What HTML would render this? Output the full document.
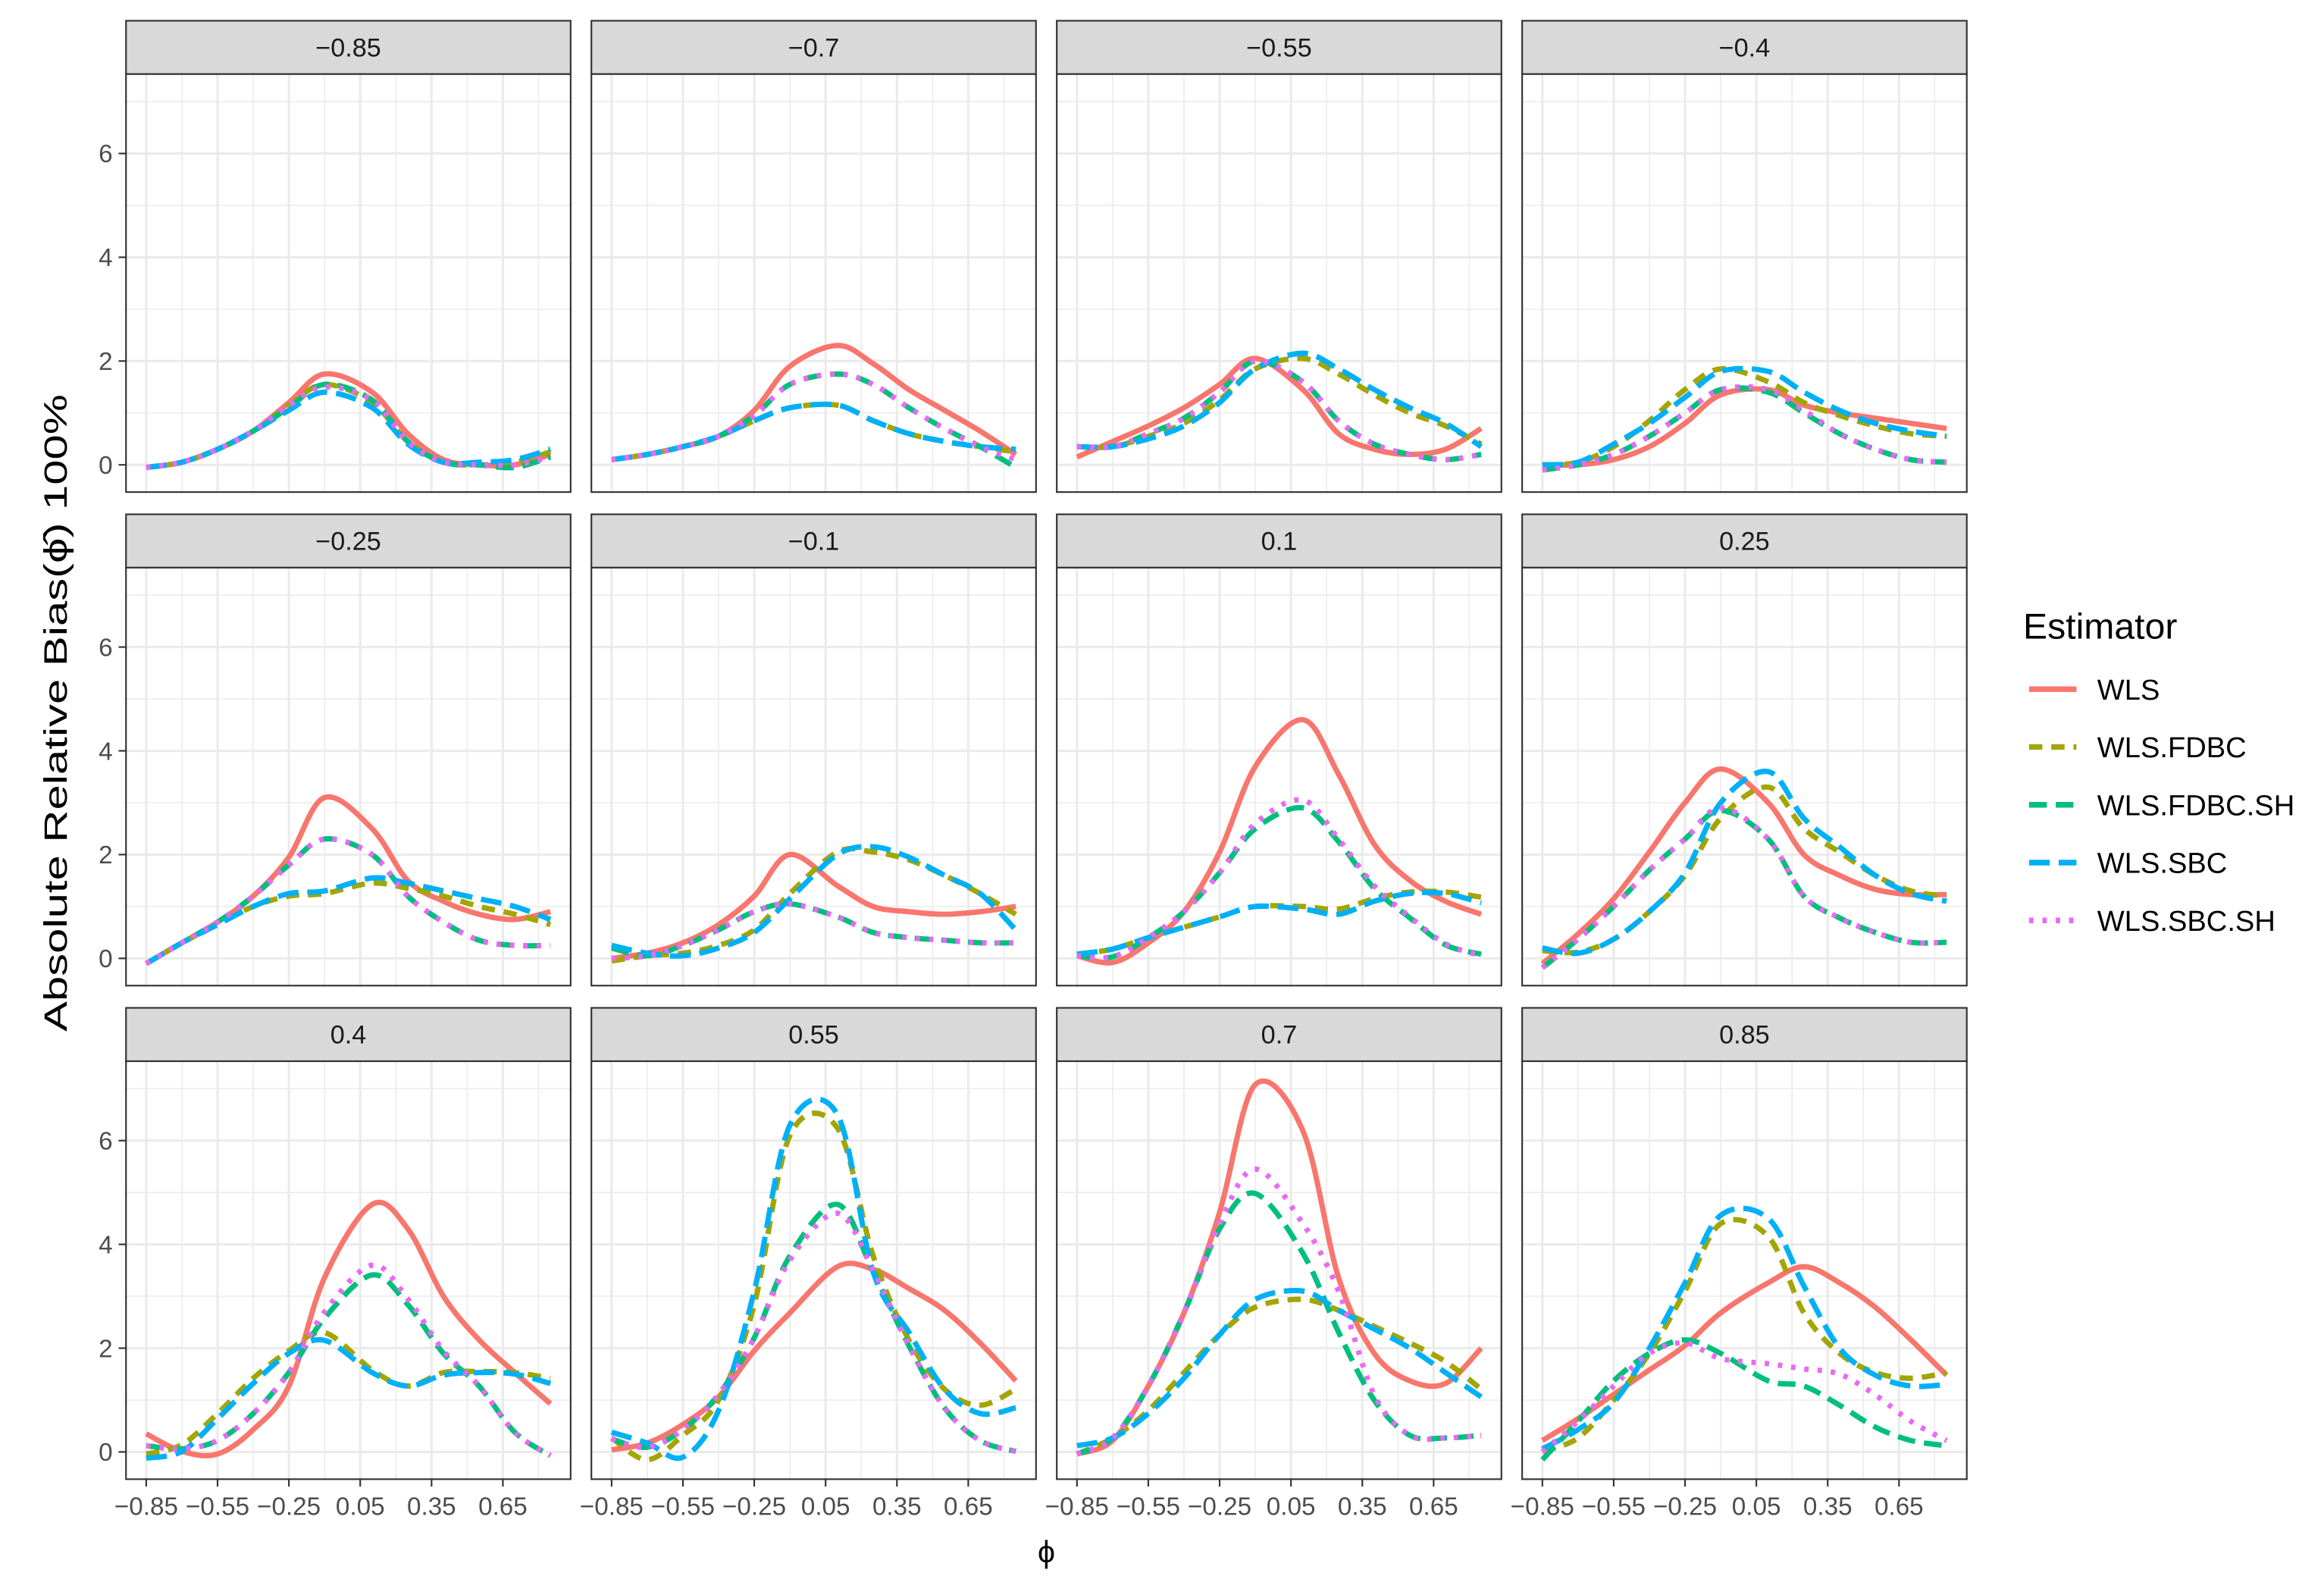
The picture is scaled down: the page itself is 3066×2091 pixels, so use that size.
<!DOCTYPE html>
<html><head><meta charset="utf-8"><style>
html,body{margin:0;padding:0;background:#fff;}
svg{display:block;}
text{font-family:"Liberation Sans","DejaVu Sans",sans-serif;}
</style></head><body>
<svg id="chart" xmlns="http://www.w3.org/2000/svg" width="3066" height="2091" viewBox="0 0 1568 1069.4">
<rect x="0" y="0" width="1568" height="1069.4" fill="#fff"/>
<g id="panels"></g>
<text x="45" y="481" transform="rotate(-90 45 481)" text-anchor="middle" font-size="22" textLength="430" lengthAdjust="spacingAndGlyphs" fill="#000">Absolute Relative Bias(ϕ̂) 100%</text>
<text x="706" y="1054" text-anchor="middle" font-size="21" fill="#000">ϕ</text>
<g id="legend">
<text x="1365" y="431" font-size="24" textLength="104" lengthAdjust="spacingAndGlyphs" fill="#000">Estimator</text>
</g>
</svg>
<script>
const panelTitles = ["−0.85","−0.7","−0.55","−0.4","−0.25","−0.1","0.1","0.25","0.4","0.55","0.7","0.85"];
const phiValues = [-0.85,-0.7,-0.55,-0.4,-0.25,-0.1,0.1,0.25,0.4,0.55,0.7,0.85];
const xTickValues = [-0.85,-0.55,-0.25,0.05,0.35,0.65];
const xTickLabels = ["−0.85","−0.55","−0.25","0.05","0.35","0.65"];
const xMinorValues = [-0.7,-0.4,-0.1,0.2,0.5,0.8];
const yTickValues = [0,2,4,6];
const yMinorValues = [1,3,5,7];
const seriesNames = ["WLS","WLS.FDBC","WLS.FDBC.SH","WLS.SBC","WLS.SBC.SH"];
const seriesColors = ["#F8766D","#A3A500","#00BF7D","#00B0F6","#E76BF3"];
const seriesDash = ["none","9 6","12 6","14 6","3 6"];

// values per panel [WLS, FDBC, FDBC.SH, SBC, SBC.SH]
const wls = [
 [-0.05,0.05,0.3,0.65,1.2,1.75,1.4,0.6,0.1,0.0,0.0,0.2],
 [0.1,0.2,0.35,0.55,1.05,1.9,2.3,1.95,1.45,1.05,0.65,0.2],
 [0.15,0.45,0.75,1.1,1.55,2.05,1.45,0.6,0.3,0.2,0.3,0.7],
 [0.0,0.0,0.1,0.35,0.8,1.35,1.45,1.15,1.0,0.9,0.8,0.7],
 [-0.1,0.3,0.7,1.2,1.95,3.1,2.5,1.5,1.1,0.85,0.75,0.9],
 [0.0,0.1,0.3,0.65,1.2,2.0,1.4,1.0,0.9,0.85,0.9,1.0],
 [0.05,-0.08,0.3,0.9,2.05,3.7,4.6,3.55,2.2,1.5,1.1,0.85],
 [-0.1,0.47,1.15,2.05,3.0,3.65,3.0,2.0,1.6,1.33,1.23,1.23],
 [0.35,0.01,-0.04,0.43,1.27,3.36,4.77,4.3,3.0,2.16,1.53,0.93],
 [0.04,0.17,0.53,1.06,1.95,2.68,3.57,3.52,3.15,2.73,2.1,1.37],
 [-0.04,0.22,1.27,2.68,4.62,7.08,6.19,3.36,1.9,1.37,1.32,2.0],
 [0.22,0.64,1.11,1.58,2.05,2.68,3.26,3.57,3.26,2.79,2.16,1.48]
];
const fdbc = [
 [-0.05,0.05,0.3,0.65,1.15,1.55,1.2,0.45,0.05,0.0,0.05,0.25],
 [0.1,0.2,0.35,0.55,0.85,1.1,1.15,0.85,0.6,0.45,0.35,0.25],
 [0.35,0.35,0.55,0.8,1.25,1.85,2.05,1.75,1.35,1.0,0.75,0.4],
 [0.0,0.05,0.35,0.85,1.45,1.85,1.6,1.2,0.95,0.75,0.6,0.55],
 [-0.1,0.3,0.65,1.0,1.2,1.25,1.45,1.35,1.2,1.0,0.85,0.65],
 [-0.05,0.05,0.1,0.25,0.55,1.25,2.05,2.05,1.9,1.6,1.25,0.85],
 [0.08,0.18,0.4,0.6,0.8,1.0,1.0,0.95,1.15,1.28,1.28,1.18],
 [0.15,0.12,0.37,0.9,1.6,2.7,3.3,2.5,2.05,1.6,1.3,1.2],
 [-0.04,0.14,0.74,1.42,1.95,2.3,1.58,1.27,1.53,1.55,1.53,1.42],
 [0.27,-0.15,0.32,1.0,2.84,6.1,6.24,3.78,2.16,1.21,0.9,1.21],
 [-0.04,0.27,0.8,1.53,2.26,2.79,2.94,2.73,2.42,2.1,1.74,1.21],
 [0.01,0.27,1.0,1.9,3.1,4.4,4.15,2.68,1.9,1.53,1.42,1.53]
];
const fdbcSh = [
 [-0.05,0.05,0.3,0.65,1.1,1.55,1.25,0.45,0.05,0.0,-0.05,0.15],
 [0.1,0.2,0.35,0.55,0.95,1.55,1.75,1.55,1.1,0.7,0.35,-0.05],
 [0.35,0.35,0.6,0.9,1.4,2.0,1.6,0.85,0.4,0.2,0.1,0.2],
 [-0.1,0.0,0.2,0.55,1.0,1.45,1.4,1.0,0.6,0.3,0.1,0.05],
 [-0.1,0.3,0.7,1.2,1.8,2.3,2.0,1.2,0.7,0.35,0.25,0.25],
 [0.2,0.05,0.25,0.55,0.9,1.05,0.8,0.5,0.4,0.35,0.3,0.3],
 [0.05,0.03,0.4,0.9,1.65,2.5,2.9,2.25,1.35,0.78,0.26,0.08],
 [-0.18,0.37,1.0,1.7,2.3,2.85,2.3,1.2,0.78,0.5,0.31,0.31],
 [0.12,0.06,0.22,0.74,1.53,2.58,3.41,2.84,1.9,1.27,0.38,-0.07],
 [0.25,0.09,0.43,1.11,2.2,3.78,4.77,3.47,2.05,0.85,0.22,0.01],
 [-0.04,0.27,1.27,2.68,4.3,4.98,3.83,2.31,1.0,0.32,0.27,0.32],
 [-0.15,0.59,1.37,1.9,2.16,1.9,1.37,1.27,0.9,0.48,0.22,0.12]
];
const sbc = [
 [-0.05,0.05,0.3,0.65,1.05,1.4,1.1,0.4,0.05,0.05,0.1,0.3],
 [0.1,0.2,0.35,0.55,0.85,1.1,1.15,0.85,0.6,0.45,0.35,0.3],
 [0.35,0.35,0.5,0.75,1.2,1.85,2.15,1.85,1.45,1.1,0.8,0.35],
 [0.0,0.05,0.4,0.8,1.3,1.8,1.8,1.4,1.05,0.8,0.65,0.55],
 [-0.1,0.3,0.65,1.0,1.25,1.3,1.55,1.45,1.3,1.15,1.0,0.75],
 [0.25,0.1,0.05,0.2,0.5,1.15,2.0,2.15,1.95,1.6,1.25,0.55],
 [0.08,0.18,0.4,0.6,0.8,1.0,0.95,0.85,1.1,1.25,1.25,1.07],
 [0.2,0.1,0.37,0.9,1.65,3.0,3.6,2.7,2.15,1.6,1.25,1.1],
 [-0.12,0.01,0.64,1.32,1.9,2.15,1.53,1.27,1.48,1.53,1.5,1.32],
 [0.38,0.17,-0.1,0.8,3.1,6.3,6.5,3.47,2.31,1.21,0.74,0.85],
 [0.12,0.27,0.74,1.42,2.26,2.94,3.1,2.73,2.37,2.0,1.53,1.06],
 [0.06,0.43,0.95,2.0,3.26,4.56,4.5,3.2,2.0,1.48,1.27,1.3]
];
const sbcSh = [
 [-0.05,0.05,0.3,0.65,1.15,1.5,1.25,0.45,0.05,0.0,0.0,0.15],
 [0.1,0.2,0.35,0.55,0.95,1.55,1.75,1.55,1.1,0.7,0.35,0.1],
 [0.35,0.35,0.6,0.9,1.4,2.0,1.6,0.85,0.4,0.2,0.1,0.2],
 [-0.1,0.0,0.2,0.55,1.0,1.45,1.45,1.05,0.6,0.3,0.1,0.05],
 [-0.1,0.3,0.7,1.2,1.8,2.3,2.0,1.2,0.7,0.35,0.25,0.25],
 [0.0,0.05,0.25,0.55,0.9,1.05,0.8,0.5,0.4,0.35,0.3,0.3],
 [0.05,0.03,0.4,0.9,1.65,2.6,3.05,2.3,1.4,0.8,0.28,0.05],
 [-0.18,0.37,1.0,1.7,2.3,2.9,2.3,1.2,0.78,0.5,0.31,0.31],
 [0.12,0.06,0.22,0.74,1.53,2.7,3.6,2.95,1.95,1.27,0.38,-0.07],
 [0.25,0.09,0.43,1.11,2.2,3.7,4.6,3.5,2.05,0.85,0.22,0.01],
 [-0.04,0.27,1.27,2.68,4.4,5.45,4.4,3.1,1.1,0.32,0.27,0.32],
 [0.0,0.59,1.27,1.9,2.1,1.8,1.7,1.6,1.5,1.1,0.59,0.22]
];
const allSeries = [wls, fdbc, fdbcSh, sbc, sbcSh];

const NS = "http://www.w3.org/2000/svg";
const colLeft = [85,399,713,1027];
const rowTop = [14,347,680];
const PW = 300, STRIP = 36, PH = 282;
const X0 = -0.935, X1 = 0.935, Y0 = -0.525, Y1 = 7.53;
function mk(tag, attrs, parent){
  const e = document.createElementNS(NS, tag);
  for (const k in attrs) e.setAttribute(k, attrs[k]);
  parent.appendChild(e);
  return e;
}
function xScale(left, v){ return left + (v - X0) / (X1 - X0) * PW; }
function yScale(top, v){ return top + (Y1 - v) / (Y1 - Y0) * PH; }
function smoothPath(pts){
  let d = "M" + pts[0][0].toFixed(2) + "," + pts[0][1].toFixed(2);
  for (let i = 0; i < pts.length - 1; i++){
    const p0 = pts[Math.max(0, i-1)], p1 = pts[i], p2 = pts[i+1], p3 = pts[Math.min(pts.length-1, i+2)];
    const c1x = p1[0] + (p2[0]-p0[0])/6, c1y = p1[1] + (p2[1]-p0[1])/6;
    const c2x = p2[0] - (p3[0]-p1[0])/6, c2y = p2[1] - (p3[1]-p1[1])/6;
    d += " C" + c1x.toFixed(2)+","+c1y.toFixed(2)+" "+c2x.toFixed(2)+","+c2y.toFixed(2)+" "+p2[0].toFixed(2)+","+p2[1].toFixed(2);
  }
  return d;
}
const root = document.getElementById("panels");
for (let p = 0; p < 12; p++){
  const r = Math.floor(p/4), c = p % 4;
  const left = colLeft[c], stripTop = rowTop[r], top = stripTop + STRIP;
  const g = mk("g", {}, root);
  
  
  const strip = mk("rect", {x:left, y:stripTop, width:PW, height:STRIP, fill:"#d9d9d9", stroke:"#333", "stroke-width":1.1}, g);
  
  
  const st = mk("text", {x:left+PW/2, y:stripTop+24, "text-anchor":"middle", "font-size":"17.5", fill:"#1a1a1a"}, g);
  st.textContent = panelTitles[p];
  
  
  mk("rect", {x:left, y:top, width:PW, height:PH, fill:"#fff"}, g);
  for (const v of yMinorValues){ const y = yScale(top, v); const l = mk("line", {x1:left, x2:left+PW, y1:y, y2:y, stroke:"#ebebeb", "stroke-width":0.8}, g);   }
  for (const v of xMinorValues){ const x = xScale(left, v); const l = mk("line", {x1:x, x2:x, y1:top, y2:top+PH, stroke:"#ebebeb", "stroke-width":0.8}, g);   }
  for (const v of yTickValues){ const y = yScale(top, v); const l = mk("line", {x1:left, x2:left+PW, y1:y, y2:y, stroke:"#ebebeb", "stroke-width":1.6}, g);   }
  for (const v of xTickValues){ const x = xScale(left, v); const l = mk("line", {x1:x, x2:x, y1:top, y2:top+PH, stroke:"#ebebeb", "stroke-width":1.6}, g);   }
  const cp = mk("clipPath", {id:"clip"+p}, g);
  mk("rect", {x:left, y:top, width:PW, height:PH}, cp);
  const lg = mk("g", {"clip-path":"url(#clip"+p+")"}, g);
  for (let s = 0; s < 5; s++){
    const vals = allSeries[s][p];
    const pts = phiValues.map((xv, i) => [xScale(left, xv), yScale(top, vals[i])]);
    const path = mk("path", {d:smoothPath(pts), fill:"none", stroke:seriesColors[s], "stroke-width":3.6, "stroke-dasharray":seriesDash[s], "stroke-linejoin":"round"}, lg);
    
    
  }
  const border = mk("rect", {x:left, y:top, width:PW, height:PH, fill:"none", stroke:"#333", "stroke-width":1.1}, g);
  
  
  if (c === 0){
    for (let i = 0; i < yTickValues.length; i++){
      const y = yScale(top, yTickValues[i]);
      mk("line", {x1:left-5, x2:left, y1:y, y2:y, stroke:"#333", "stroke-width":1.1}, g);
      const t = mk("text", {x:left-9, y:y+6, "text-anchor":"end", "font-size":"17", fill:"#4d4d4d"}, g);
      t.textContent = String(yTickValues[i]);
      
      
    }
  }
  if (r === 2){
    for (let i = 0; i < xTickValues.length; i++){
      const x = xScale(left, xTickValues[i]);
      mk("line", {x1:x, x2:x, y1:top+PH, y2:top+PH+5, stroke:"#333", "stroke-width":1.1}, g);
      const t = mk("text", {x:x, y:top+PH+24, "text-anchor":"middle", "font-size":"17", fill:"#4d4d4d"}, g);
      t.textContent = xTickLabels[i];
      
      
    }
  }
}
const legend = document.getElementById("legend");
for (let s = 0; s < 5; s++){
  const y = 465 + s*39;
  const eg = mk("g", {}, legend);
  
  
  mk("line", {x1:1369, x2:1401, y1:y, y2:y, stroke:seriesColors[s], "stroke-width":3.8, "stroke-dasharray":seriesDash[s]}, eg);
  const t = mk("text", {x:1415, y:y+7, "font-size":"19.5", fill:"#000"}, eg);
  t.textContent = seriesNames[s];
}
</script>
</body></html>
